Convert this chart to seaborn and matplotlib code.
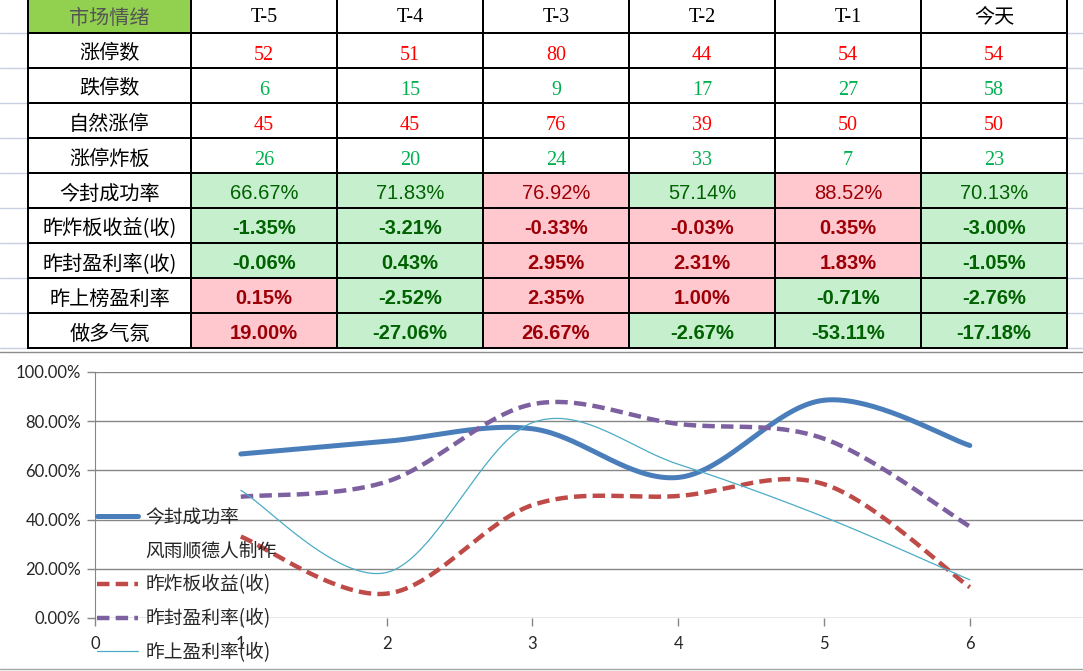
import numpy as np
import pandas as pd
import seaborn as sns
import matplotlib.pyplot as plt
from matplotlib.colors import ListedColormap
from matplotlib.lines import Line2D

# ---- table data ----
cols = ['T-5', 'T-4', 'T-3', 'T-2', 'T-1', '今天']
row_names = ['涨停数', '跌停数', '自然涨停', '涨停炸板', '今封成功率',
             '昨炸板收益(收)', '昨封盈利率(收)', '昨上榜盈利率', '做多气氛']
zt_num = [52, 51, 80, 44, 54, 54]
dt_num = [6, 15, 9, 17, 27, 58]
zr_zt = [45, 45, 76, 39, 50, 50]
zt_zb = [26, 20, 24, 33, 7, 23]
fb_rate = [66.67, 71.83, 76.92, 57.14, 88.52, 70.13]
zb_ret = [-1.35, -3.21, -0.33, -0.03, 0.35, -3.00]
fb_ret = [-0.06, 0.43, 2.95, 2.31, 1.83, -1.05]
sb_ret = [0.15, -2.52, 2.35, 1.00, -0.71, -2.76]
dq_mood = [19.00, -27.06, 26.67, -2.67, -53.11, -17.18]
# cell fill read from the sheet: g = green, p = pink
fill_fb = ['g', 'g', 'p', 'g', 'p', 'g']
fill_zb = ['g', 'g', 'p', 'p', 'p', 'g']
fill_fy = ['g', 'g', 'p', 'p', 'p', 'g']
fill_sb = ['p', 'g', 'p', 'p', 'g', 'g']
fill_dq = ['p', 'g', 'p', 'g', 'g', 'g']

# ---- chart data ----
x_pos = [1, 2, 3, 4, 5, 6]
line_fb = fb_rate
line_zb = [33.1, 9.9, 45.9, 49.6, 54.4, 12.5]
line_fy = [49.3, 55.4, 86.9, 78.9, 72.9, 37.2]
line_sb = [51.9, 18.5, 79.4, 62.5, 41.1, 15.5]
legend_names = ['今封成功率', '风雨顺德人制作', '昨炸板收益(收)', '昨封盈利率(收)', '昨上盈利率(收)']

sns.set_style('white')
plt.rcParams['font.family'] = ['Noto Sans CJK SC', 'DejaVu Sans']

W, H = 1083, 671
fig = plt.figure(figsize=(W / 100, H / 100), dpi=100)


def px_ax(x0, y0, x1, y1):
    return fig.add_axes([x0 / W, 1 - y1 / H, (x1 - x0) / W, (y1 - y0) / H])


# sheet background, gridlines and chart border
bg = px_ax(0, 0, W, H)
bg.set_xlim(0, W)
bg.set_ylim(H, 0)
bg.axis('off')
bg.set_zorder(-1)
for y in range(33, 349, 35):
    bg.plot([0, 28], [y, y], color='#C9CFE0', lw=1)
    bg.plot([1067, W], [y, y], color='#C9CFE0', lw=1)
bg.plot([0, W], [352, 352], color='#8C8C8C', lw=1)
bg.plot([0, W], [669, 669], color='#A6A6A6', lw=1)

# ---- table via heatmaps ----
codes = {'w': 0, 'g': 1, 'p': 2, 'h': 3}
cmap = ListedColormap(['#FFFFFF', '#C6EFCE', '#FFC7CE', '#92D050'])

pct_rows = [fb_rate, zb_ret, fb_ret, sb_ret, dq_mood]
pct_fills = [fill_fb, fill_zb, fill_fy, fill_sb, fill_dq]
num_rows = [zt_num, dt_num, zr_zt, zt_zb]

grid = [[0] * 6] + [[0] * 6 for _ in num_rows] + [[codes[f] for f in fr] for fr in pct_fills]
labels = [cols] + [[str(v) for v in r] for r in num_rows] + [[f'{v:.2f}%' for v in r] for r in pct_rows]
grid = pd.DataFrame(grid, columns=cols)
labels = np.array(labels, dtype=object)

tab = px_ax(191, -2, 1067, 348)
sns.heatmap(grid, cmap=cmap, vmin=-0.5, vmax=3.5, cbar=False, annot=labels, fmt='',
            linewidths=1.1, linecolor='black', xticklabels=False, yticklabels=False,
            annot_kws={'fontsize': 14.5}, ax=tab)
tab.collections[0].set_clip_on(False)
num_colors = ['#FF0000', '#00B050', '#FF0000', '#00B050']
for k, t in enumerate(tab.texts):
    r, c = divmod(k, 6)
    x0, y0 = t.get_position()
    if r == 0:
        t.set_color('black')
        t.set_fontfamily(['Liberation Serif', 'Noto Sans CJK SC'])
        t.set_position((x0, y0 + 0.06))
    elif r <= 4:
        t.set_color(num_colors[r - 1])
        t.set_fontfamily(['Liberation Serif'])
        t.set_position((x0, y0 + 0.13))
    else:
        f = pct_fills[r - 5][c]
        t.set_color('#006100' if f == 'g' else '#9C0006')
        t.set_fontfamily(['Liberation Sans'])
        t.set_fontweight('normal' if r == 5 else 'bold')
        t.set_position((x0, y0 + 0.08))

lab = px_ax(28, -2, 191, 348)
lab_grid = pd.DataFrame({'k': [3] + [0] * len(row_names)})
lab_text = np.array([['市场情绪']] + [[n] for n in row_names], dtype=object)
sns.heatmap(lab_grid, cmap=cmap, vmin=-0.5, vmax=3.5, cbar=False, annot=lab_text, fmt='',
            linewidths=1.1, linecolor='black', xticklabels=False, yticklabels=False,
            annot_kws={'fontsize': 14.5}, ax=lab)
lab.collections[0].set_clip_on(False)
for k, t in enumerate(lab.texts):
    t.set_color('#555555' if k == 0 else 'black')
    t.set_fontfamily(['Noto Sans CJK SC', 'DejaVu Sans'])
    x0, y0 = t.get_position()
    t.set_position((x0, y0 + 0.1))


# ---- smoothed line chart (Excel style bezier smoothing) ----
def smooth(xs, ys, n=40):
    p = np.column_stack([xs, ys]).astype(float)
    p = np.vstack([p[0], p, p[-1]])
    t = np.linspace(0, 1, n)[:, None]
    out = []
    for i in range(1, len(p) - 2):
        p0, p1, p2, p3 = p[i - 1], p[i], p[i + 1], p[i + 2]
        c1 = p1 + (p2 - p0) / 6
        c2 = p2 - (p3 - p1) / 6
        seg = (1 - t) ** 3 * p1 + 3 * (1 - t) ** 2 * t * c1 + 3 * (1 - t) * t ** 2 * c2 + t ** 3 * p2
        out.append(seg if i == 1 else seg[1:])
    return np.vstack(out)


ax = px_ax(95, 372, 1083, 618)
ax.set_facecolor('none')
series = [
    (line_fb, '#4A7EBB', 3.6, None),
    (line_zb, '#BE4B48', 3.2, (2.8, 1.4)),
    (line_fy, '#7D60A0', 3.2, (2.8, 1.4)),
    (line_sb, '#4BACC6', 0.9, None),
]
handles = []
for ys, color, lw, dash in series:
    pts = smooth(x_pos, ys)
    sns.lineplot(x=pts[:, 0], y=pts[:, 1], sort=False, estimator=None, color=color, lw=lw, ax=ax)
    ln = ax.lines[-1]
    if dash:
        ln.set_dashes(dash)
    handles.append(ln)

ax.set_xlim(0, (1083 - 95) / 145.8)
ax.set_ylim(0, 100)
ax.set_xticks(range(0, 7))
ax.set_yticks(range(0, 101, 20))
ax.set_yticklabels([f'{v:.2f}%' for v in range(0, 101, 20)])
ax.grid(axis='y', color='#868686', lw=1)
ax.set_axisbelow(True)
for s in ['top', 'right', 'bottom']:
    ax.spines[s].set_visible(False)
ax.spines['left'].set_color('#868686')
ax.tick_params(axis='y', left=True, length=6, width=1, color='#868686', pad=4)
ax.tick_params(axis='x', bottom=True, length=6, width=1, color='#868686', pad=7)
for t in ax.get_xticklabels() + ax.get_yticklabels():
    t.set_fontfamily(['Lato', 'DejaVu Sans'])
    t.set_fontsize(12)

blank = Line2D([], [], color='none')
leg_handles = [handles[0], blank, handles[1], handles[2], handles[3]]
leg = ax.legend(leg_handles, legend_names, loc='upper left', frameon=False,
                bbox_to_anchor=(97 / W, 1 - 507 / H), bbox_transform=fig.transFigure,
                borderpad=0, borderaxespad=0, handlelength=2.2, handletextpad=0.4,
                labelspacing=0.68, prop={'family': ['Noto Sans CJK SC', 'DejaVu Sans'], 'size': 13.5})

fig.savefig('out.png', dpi=100)
